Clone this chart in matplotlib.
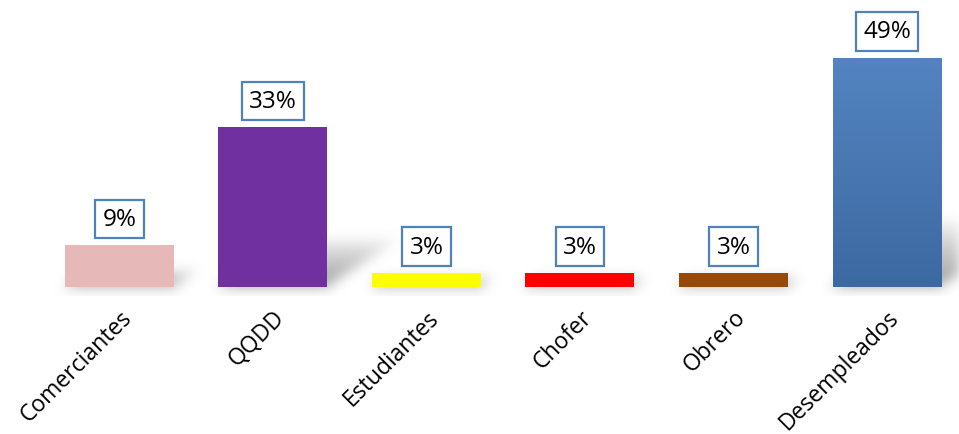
import numpy as np
import matplotlib

matplotlib.use("Agg")
import matplotlib.pyplot as plt

categories = ["Comerciantes", "QQDD", "Estudiantes", "Chofer", "Obrero", "Desempleados"]
values = [8.8, 33.8, 2.9, 2.9, 2.9, 48.5]          # percent
value_labels = ["9%", "33%", "3%", "3%", "3%", "49%"]
colors = ["#E6B9B8", "#7030A0", "#FFFF00", "#FF0000", "#984807", "#4F81BD"]

FONT = ["Open Sans", "DejaVu Sans"]
BAR_W = 0.71
W_PX, H_PX = 959, 435
XLIM = (-0.778, 5.469)
YLIM = (0, 61)

fig = plt.figure(figsize=(W_PX / 100, H_PX / 100), dpi=100)
ax = fig.add_axes([0, 147 / H_PX, 1, 288 / H_PX])
for s in ax.spines.values():
    s.set_visible(False)
ax.set_yticks([])

x = np.arange(len(categories))

# --- soft shadows (blurred mask, drawn under the bars) ---
px_x = W_PX / (XLIM[1] - XLIM[0])
px_y = 288 / (YLIM[1] - YLIM[0])
y_lo, y_hi = -2.0, 24.0
gx = np.linspace(*XLIM, W_PX)
gy = np.linspace(y_lo, y_hi, int((y_hi - y_lo) * px_y))
XX, YY = np.meshgrid(gx * px_x, gy * px_y)
mask = np.zeros_like(XX)
for xi, v in zip(x, values):
    xl, xr = (xi - BAR_W / 2) * px_x, (xi + BAR_W / 2) * px_x
    hp = v * px_y
    hs = 0.27 * hp + 6
    slope = 1.5
    inside = (YY >= 0) & (YY <= hs) & (XX >= xl + YY * slope) & (XX <= xr + YY * slope)
    fade = np.clip(1 - YY / hs, 0, 1) ** 0.7
    mask = np.maximum(mask, inside * fade)
    under = (YY < 0) & (YY >= -3) & (XX >= xl - 2) & (XX <= xr + 2)
    mask = np.maximum(mask, under * 0.45)

k = np.exp(-0.5 * (np.arange(-18, 19) / 6.0) ** 2)
k /= k.sum()
mask = np.apply_along_axis(lambda r: np.convolve(r, k, mode="same"), 1, mask)
mask = np.apply_along_axis(lambda c: np.convolve(c, k, mode="same"), 0, mask)
shadow = np.zeros(mask.shape + (4,))
shadow[..., :3] = 0.4
shadow[..., 3] = np.clip(mask * 0.6, 0, 1)
ax.imshow(shadow, extent=(XLIM[0], XLIM[1], y_lo, y_hi), origin="lower",
          aspect="auto", zorder=1, clip_on=False, interpolation="bilinear")

# --- bars ---
bars = ax.bar(x, values, width=BAR_W, color=colors, zorder=3)

# gradient on the last bar
grad = np.linspace(0, 1, 256).reshape(-1, 1, 1)
top_c = np.array(matplotlib.colors.to_rgb("#5384C1"))
bot_c = np.array(matplotlib.colors.to_rgb("#3D69A1"))
img = np.repeat(bot_c + (top_c - bot_c) * grad, 2, axis=1)
im = ax.imshow(img, extent=(x[-1] - BAR_W / 2, x[-1] + BAR_W / 2, 0, values[-1]),
               origin="lower", aspect="auto", zorder=4)
im.set_clip_path(bars[-1])

ax.set_xlim(*XLIM)
ax.set_ylim(*YLIM)

# --- value labels ---
for xi, v, lab in zip(x, values, value_labels):
    ax.annotate(lab, (xi, v), xytext=(0, 10.5), textcoords="offset points",
                ha="center", va="bottom", fontsize=17.5, family=FONT,
                color="black", zorder=6, annotation_clip=False,
                bbox=dict(boxstyle="square,pad=0.3", fc="white",
                          ec="#4F81BD", lw=1.6))

# --- category labels ---
ax.set_xticks(x)
ax.set_xticklabels(categories, rotation=45, ha="right",
                   rotation_mode="anchor", fontsize=16.5, family=FONT)
ax.tick_params(axis="x", length=0, pad=13)

fig.savefig("out.png", dpi=100)
